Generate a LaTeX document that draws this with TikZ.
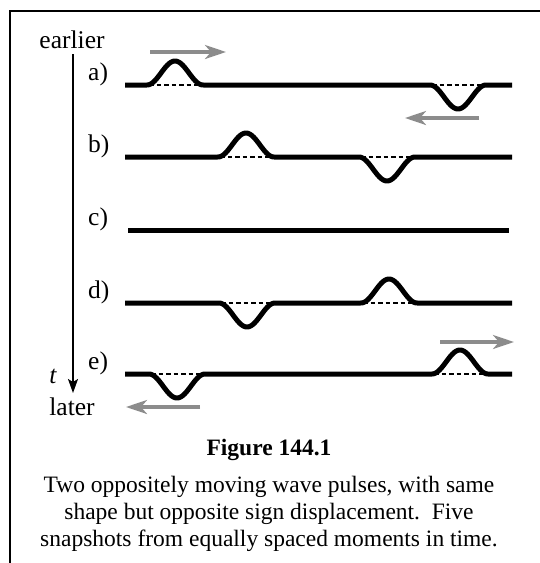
\documentclass[tikz,border=0pt]{standalone}
\usepackage{fontspec}
\setmainfont{Liberation Serif}
\usetikzlibrary{arrows.meta}

\begin{document}
\begin{tikzpicture}[x=1pt, y=-1pt,
    declare function={bump(\x,\c)=12*(1+cos(6.4286*min(abs(\x-\c),28)));},
    rope/.style={line width=5pt, line join=round},
    zero/.style={line width=1.6pt, dash pattern=on 4.5pt off 3pt},
    motion/.style={-{Stealth[length=21pt, width=14pt, inset=6pt]}, line width=3.2pt, draw=black!45, fill=black!45},
    lbl/.style={font=\fontsize{25.5}{28}\selectfont, inner sep=0pt}
  ]
    \useasboundingbox (0,0) rectangle (540,563);
    \draw[line width=1.5pt] (10,563) -- (10,11) -- (540,11);

    % time axis
    \node[lbl, anchor=base] (earlier) at (72,48) {earlier};
    \node[lbl, anchor=base] (later) at (72,415) {later};
    \node[lbl, anchor=base, font=\fontsize{25.5}{28}\selectfont\itshape] (t) at (53,383) {t};
    \coordinate (tstart) at (73,54);
    \coordinate (tend) at (73,393);
    \draw[line width=1.5pt, -{Stealth[length=14pt, width=10pt, inset=3pt]}] (tstart) -- (tend);

    % snapshots: row y, upward pulse, downward pulse, label
    \foreach \ry/\pu/\pd/\nm in {85/175/458/a, 157/246/387/b, 303/389/247/d, 374/460/177/e}{
      \draw[zero] (\pu-26,\ry) -- (\pu+26,\ry);
      \draw[zero] (\pd-26,\ry) -- (\pd+26,\ry);
      \draw[rope] plot[domain=125:512, samples=320] (\x, {\ry - bump(\x,\pu) + bump(\x,\pd)});
      \node[lbl, anchor=base west] (lbl-\nm) at (88,\ry-5) {\nm)};
    }
    \draw[rope] (128,230) -- (509,230);
    \node[lbl, anchor=base west] (lbl-c) at (88,225) {c)};

    % directions of motion
    \coordinate (ar1) at (150,52);  \coordinate (ar2) at (226,52);
    \coordinate (al1) at (479,118); \coordinate (al2) at (405,118);
    \coordinate (er1) at (440,342); \coordinate (er2) at (514,342);
    \coordinate (el1) at (200,407); \coordinate (el2) at (126,407);
    \draw[motion] (ar1) -- (ar2);
    \draw[motion] (al1) -- (al2);
    \draw[motion] (er1) -- (er2);
    \draw[motion] (el1) -- (el2);

    % caption
    \node[lbl, anchor=base, font=\fontsize{23.5}{26}\selectfont\bfseries] (title) at (269,455) {Figure 144.1};
    \node[lbl, anchor=north, align=center, font=\fontsize{23.5}{27}\selectfont] (caption) at (269,476)
      {Two oppositely moving wave pulses, with same\\shape but opposite sign displacement.\ \ Five\\snapshots from equally spaced moments in time.};
\end{tikzpicture}
\end{document}
